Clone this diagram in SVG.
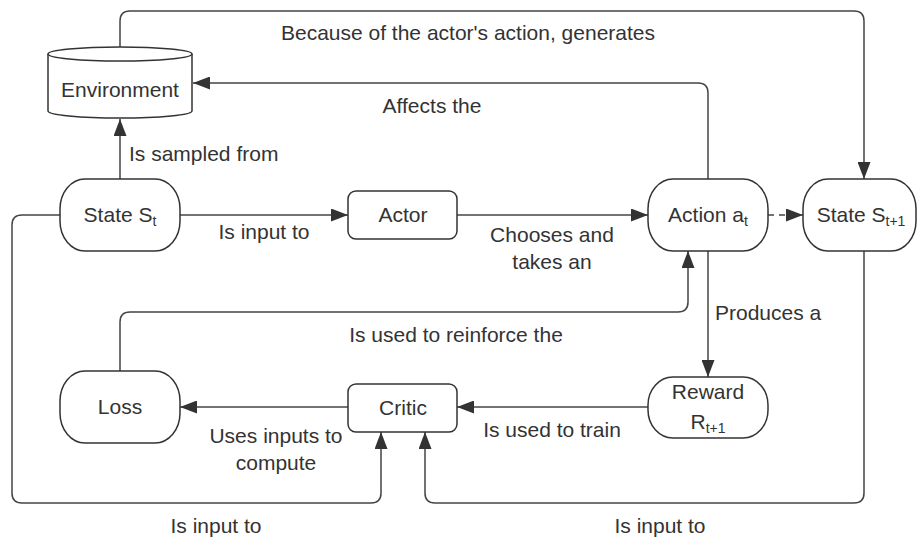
<svg xmlns="http://www.w3.org/2000/svg" width="917" height="539" viewBox="0 0 917 539">
  <style>
    text { font-family: "Liberation Sans", Arial, sans-serif; font-size: 21px; fill: #333; }
    .mid { text-anchor: middle; }
    .sub { font-size: 14px; }
    .node { fill: #fff; stroke: #333; stroke-width: 1.5; }
    .edge { fill: none; stroke: #444; stroke-width: 1.5; marker-end: url(#arrow); }
    .dash { stroke-dasharray: 6 5; }
  </style>
  <defs>
    <marker id="arrow" markerUnits="userSpaceOnUse" markerWidth="18" markerHeight="13" refX="17" refY="6.5" orient="auto">
      <path d="M0,0 L17,6.5 L0,13 z" fill="#333"/>
    </marker>
  </defs>

  <rect width="917" height="539" fill="#fff"/>

  <!-- connectors -->
  <g id="connectors">
    <path class="edge" d="M120,47 V21 Q120,11 130,11 H854 Q864,11 864,21 V179"/>
    <path class="edge" d="M708,179 V93 Q708,83 698,83 H193"/>
    <path class="edge" d="M120,179 V119"/>
    <path class="edge" d="M180,215 H348"/>
    <path class="edge" d="M457,215 H648"/>
    <path class="edge dash" d="M768,215 H803"/>
    <path class="edge" d="M708,251 V377"/>
    <path class="edge" d="M120,371 V322 Q120,312 130,312 H678 Q688,312 688,302 V251"/>
    <path class="edge" d="M648,407 H457"/>
    <path class="edge" d="M348,407 H180"/>
    <path class="edge" d="M60,215 H22 Q12,215 12,225 V493 Q12,503 22,503 H371 Q381,503 381,493 V432"/>
    <path class="edge" d="M864,251 V493 Q864,503 854,503 H435 Q425,503 425,493 V432"/>

    <text x="468" y="40" class="mid">Because of the actor's action, generates</text>
    <text x="432" y="113" class="mid">Affects the</text>
    <text x="129" y="161">Is sampled from</text>
    <text x="264" y="239" class="mid">Is input to</text>
    <text x="552" y="242" class="mid">Chooses and</text>
    <text x="552" y="269" class="mid">takes an</text>
    <text x="715" y="320">Produces a</text>
    <text x="456" y="342" class="mid">Is used to reinforce the</text>
    <text x="276" y="443" class="mid">Uses inputs to</text>
    <text x="276" y="470" class="mid">compute</text>
    <text x="552" y="437" class="mid">Is used to train</text>
    <text x="216" y="533" class="mid">Is input to</text>
    <text x="660" y="533" class="mid">Is input to</text>
  </g>

  <!-- nodes -->
  <g id="environment">
    <path class="node" d="M48,54 V111 A72,7 0 0 0 192,111 V54"/>
    <ellipse class="node" cx="120" cy="54" rx="72" ry="7"/>
    <text x="120" y="97" class="mid">Environment</text>
  </g>

  <g id="state-t">
    <rect class="node" x="60" y="179" width="120" height="72" rx="25" ry="30"/>
    <text x="120" y="222" class="mid">State S<tspan class="sub" dy="4">t</tspan></text>
  </g>

  <g id="actor">
    <rect class="node" x="348" y="191" width="109" height="48" rx="8"/>
    <text x="403" y="222" class="mid">Actor</text>
  </g>

  <g id="action">
    <rect class="node" x="648" y="179" width="120" height="72" rx="25" ry="30"/>
    <text x="708" y="222" class="mid">Action a<tspan class="sub" dy="4">t</tspan></text>
  </g>

  <g id="state-t1">
    <rect class="node" x="803" y="179" width="113" height="72" rx="25" ry="30"/>
    <text x="861" y="222" class="mid">State S<tspan class="sub" dy="4">t+1</tspan></text>
  </g>

  <g id="loss">
    <rect class="node" x="60" y="371" width="120" height="72" rx="25" ry="30"/>
    <text x="120" y="414" class="mid">Loss</text>
  </g>

  <g id="critic">
    <rect class="node" x="348" y="384" width="109" height="48" rx="8"/>
    <text x="403" y="415" class="mid">Critic</text>
  </g>

  <g id="reward">
    <rect class="node" x="648" y="377" width="120" height="61" rx="25" ry="28"/>
    <text x="708" y="399" class="mid">Reward</text>
    <text x="708" y="429" class="mid">R<tspan class="sub" dy="4">t+1</tspan></text>
  </g>
</svg>
